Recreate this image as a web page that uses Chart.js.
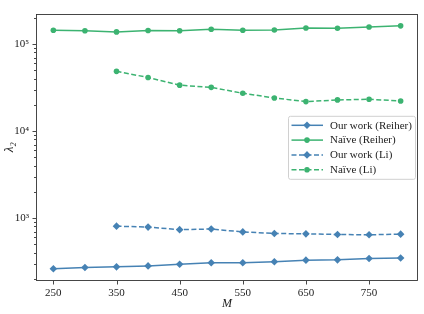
<!DOCTYPE html>
<html>
<head>
<meta charset="utf-8">
<script src="https://cdn.jsdelivr.net/npm/chart.js@4/dist/chart.umd.min.js"></script>
<style>
  body { margin: 0; background: #fff; }
  #wrap { width: 424px; height: 314px; }
</style>
</head>
<body>
<div id="wrap"><canvas id="chart" width="424" height="314"></canvas></div>
<script>
const M = [250, 300, 350, 400, 450, 500, 550, 600, 650, 700, 750, 800];
const ourReiher = [261, 270, 275, 282, 294, 306, 306, 315, 328, 331, 343, 348];
const naiveReiher = [144000, 142000, 138000, 143000, 142000, 148000, 144000, 145000, 153000, 152000, 157000, 162000];
const ourLi = [null, null, 807, 787, 736, 748, 693, 665, 658, 648, 642, 653];
const naiveLi = [null, null, 48600, 41300, 33700, 31800, 27200, 24000, 21800, 22800, 23200, 22200];
const xTicks = [250, 350, 450, 550, 650, 750];
const yMajor = [1000, 10000, 100000];
const yMinor = [200, 300, 400, 500, 600, 700, 800, 900,
  2000, 3000, 4000, 5000, 6000, 7000, 8000, 9000,
  20000, 30000, 40000, 50000, 60000, 70000, 80000, 90000, 200000];

const blue = "#4682b4";
const green = "#3cb371";
const sup = { "3": "\u00b3", "4": "\u2074", "5": "\u2075" };

Chart.defaults.font.family = "'Liberation Serif', 'DejaVu Serif', serif";
Chart.defaults.font.size = 11;
Chart.defaults.color = "#222";

function series(label, data, color, style, dashed) {
  return {
    label: label,
    data: data,
    borderColor: color,
    backgroundColor: color,
    borderWidth: 1.5,
    borderDash: dashed ? [5, 2.5] : [],
    pointStyle: style,
    pointRadius: style === "rectRot" ? 3.8 : 2.8,
    pointBorderWidth: 0,
    pointHoverRadius: 3,
    spanGaps: false,
  };
}

const datasets = [
  series("Our work (Reiher)", ourReiher, blue, "rectRot", false),
  series("Na\u00efve (Reiher)", naiveReiher, green, "circle", false),
  series("Our work (Li)", ourLi, blue, "rectRot", true),
  series("Na\u00efve (Li)", naiveLi, green, "circle", true),
];

// ticks, frame and legend drawn like matplotlib
const decor = {
  id: "decor",
  afterDraw(chart) {
    const ctx = chart.ctx;
    const ca = chart.chartArea;
    const xs = chart.scales.x;
    const ys = chart.scales.y;
    ctx.save();
    ctx.strokeStyle = "#333";
    ctx.lineWidth = 0.9;
    ctx.beginPath();
    xTicks.forEach(v => {
      const px = Math.round(xs.getPixelForValue(v)) + 0.5;
      ctx.moveTo(px, ca.bottom);
      ctx.lineTo(px, ca.bottom + 3.5);
    });
    yMajor.forEach(v => {
      const py = Math.round(ys.getPixelForValue(v)) + 0.5;
      ctx.moveTo(ca.left, py);
      ctx.lineTo(ca.left - 3.5, py);
    });
    yMinor.forEach(v => {
      const py = Math.round(ys.getPixelForValue(v)) + 0.5;
      ctx.moveTo(ca.left, py);
      ctx.lineTo(ca.left - 2, py);
    });
    ctx.stroke();
    ctx.strokeRect(Math.round(ca.left) + 0.5, Math.round(ca.top) + 0.5,
      Math.round(ca.right - ca.left) - 1, Math.round(ca.bottom - ca.top) - 1);

    // legend
    const w = 127, h = 63;
    const lx = ca.right - 3 - w;
    const ly = (ca.top + ca.bottom) / 2 - h / 2;
    ctx.beginPath();
    ctx.roundRect(lx + 0.5, ly + 0.5, w, h, 2);
    ctx.fillStyle = "rgba(255,255,255,0.8)";
    ctx.fill();
    ctx.strokeStyle = "#d0d0d0";
    ctx.lineWidth = 1;
    ctx.stroke();
    datasets.forEach((d, i) => {
      const y = ly + 9.5 + i * 14.8;
      ctx.strokeStyle = d.borderColor;
      ctx.lineWidth = 1.5;
      ctx.setLineDash(d.borderDash);
      ctx.beginPath();
      ctx.moveTo(lx + 3.5, y);
      ctx.lineTo(lx + 35, y);
      ctx.stroke();
      ctx.setLineDash([]);
      ctx.fillStyle = d.borderColor;
      const cx = lx + 19;
      ctx.beginPath();
      if (d.pointStyle === "circle") {
        ctx.arc(cx, y, 2.8, 0, Math.PI * 2);
      } else {
        ctx.moveTo(cx - 3.8, y);
        ctx.lineTo(cx, y - 3.8);
        ctx.lineTo(cx + 3.8, y);
        ctx.lineTo(cx, y + 3.8);
        ctx.closePath();
      }
      ctx.fill();
      ctx.fillStyle = "#222";
      ctx.font = "11px 'Liberation Serif', serif";
      ctx.textBaseline = "middle";
      ctx.fillText(d.label, lx + 42, y + 0.5);
    });
    ctx.restore();
  },
};

new Chart(document.getElementById("chart"), {
  type: "line",
  data: { labels: M, datasets: datasets },
  options: {
    responsive: false,
    animation: false,
    layout: { padding: { left: 0, right: 6, top: 4, bottom: 0 } },
    plugins: { legend: { display: false }, tooltip: { enabled: false } },
    scales: {
      x: {
        type: "linear",
        min: 222.5,
        max: 827.5,
        grid: { display: false, drawTicks: false },
        border: { display: false },
        afterBuildTicks: s => { s.ticks = xTicks.map(v => ({ value: v })); },
        afterFit: s => { s.height = 33; },
        ticks: { padding: 6, autoSkip: false, maxRotation: 0, callback: v => String(v) },
        title: { display: true, text: "M", font: { style: "italic", size: 12 }, padding: { top: 0, bottom: 3 } },
      },
      y: {
        type: "logarithmic",
        min: 189,
        max: 224000,
        grid: { display: false, drawTicks: false },
        border: { display: false },
        afterBuildTicks: s => { s.ticks = yMajor.concat(yMinor).sort((a, b) => a - b).map(v => ({ value: v })); },
        afterFit: s => { s.width = 36; },
        ticks: {
          padding: 7,
          autoSkip: false,
          callback: v => {
            const e = Math.round(Math.log10(v));
            return Math.abs(Math.log10(v) - e) < 1e-9 ? "10" + sup[e] : "";
          },
        },
        title: { display: true, text: "\u03bb\u2082", font: { style: "italic", size: 13 }, padding: { top: 2, bottom: 0 } },
      },
    },
  },
  plugins: [decor],
});
</script>
</body>
</html>
